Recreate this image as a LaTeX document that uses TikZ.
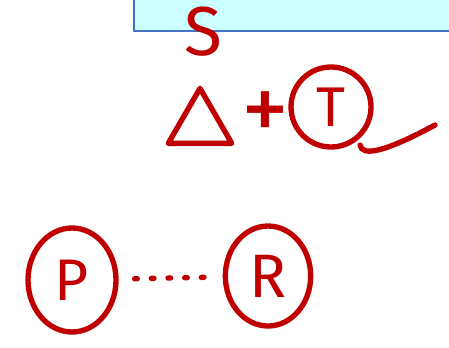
\documentclass[tikz,border=0pt]{standalone}
\usepackage{fontspec}
\setmainfont{Fira Sans}
\usetikzlibrary{shapes.geometric}
\definecolor{ink}{RGB}{192,0,0}
\definecolor{boxfill}{RGB}{204,255,255}
\definecolor{boxline}{RGB}{68,114,196}

\begin{document}
\begin{tikzpicture}[x=0.75pt,y=-0.75pt,
  pen/.style={draw=ink,line width=4pt,line cap=round,line join=round},
  letter/.style={text=ink,inner sep=0pt,font=\fontsize{#1}{#1}\selectfont},
  ring/.style={pen,inner sep=0pt}]
  \useasboundingbox (0,0) rectangle (449,347);
  \clip (0,0) rectangle (449,347);
  \filldraw[fill=boxfill,draw=boxline,line width=1.5pt] (134,-10) rectangle (460,31);
  \node[letter=52] (S) at (203,32) {S};
  \node[regular polygon,regular polygon sides=3,pen,inner sep=0pt,
    minimum size=55pt] (tri) at (200,125) {};
  \node[letter=72] (plus) at (265,117) {+};
  \node[ring,circle,minimum size=60pt,letter=42] (T) at (331,107) {T};
  \coordinate (tailA) at (360,145);
  \coordinate (tailB) at (435,125);
  \draw[pen] (tailA) .. controls (362,157) and (385,152) .. (tailB);
  \node[ring,ellipse,minimum width=66pt,minimum height=78pt,letter=44] (P) at (72,280) {P};
  \node[ring,ellipse,minimum width=64pt,minimum height=75pt,letter=46] (R) at (268,276) {R};
  \draw[pen,dash pattern=on 2pt off 10.5pt,
    shorten <=12pt,shorten >=12pt] (P) -- (R);
\end{tikzpicture}
\end{document}
